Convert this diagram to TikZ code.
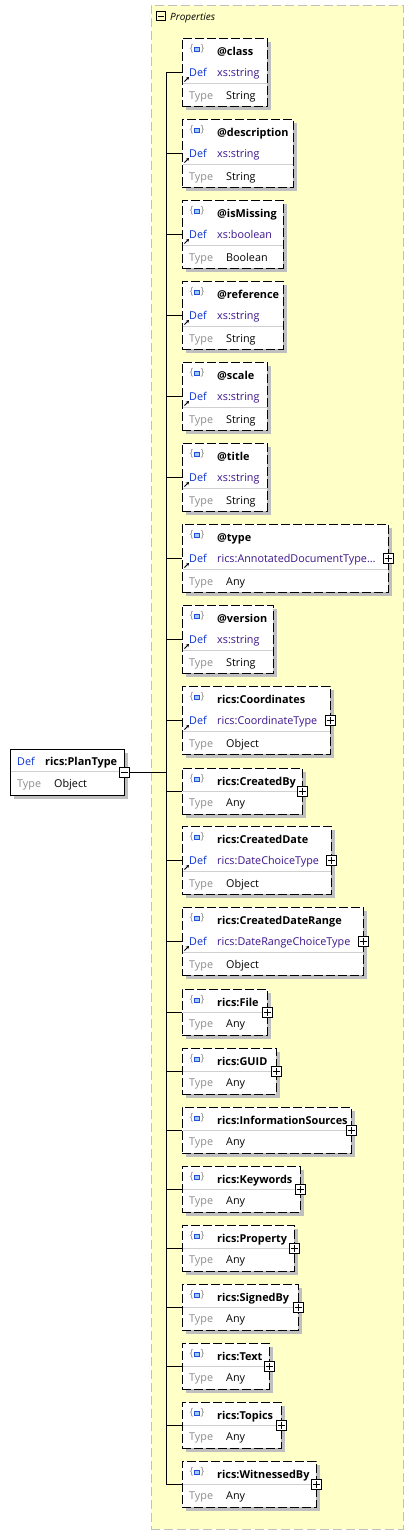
\documentclass[tikz,border=0pt]{standalone}
\usepackage{fontspec}
\setmainfont{Open Sans}
\usetikzlibrary{
  positioning,
  arrows.meta,
  shadows
}
\definecolor{propfill}{HTML}{FFFFC8}
\definecolor{propline}{HTML}{C0C0C0}
\definecolor{rowline}{HTML}{D0D0D0}
\definecolor{defblue}{HTML}{0A32D2}
\definecolor{typeblue}{HTML}{3C148C}
\definecolor{labelgray}{HTML}{8C8C8C}
\definecolor{iconblue}{HTML}{1E50DC}
\definecolor{iconfill}{HTML}{A0C8FF}

\begin{document}
\begin{tikzpicture}[
  x=1pt, y=-1pt,
  font=\fontsize{10.8}{13}\selectfont,
  panel/.style={draw=propline, dash pattern=on 9pt off 4pt, fill=propfill, line width=1pt,
                anchor=north west, inner sep=0, outer sep=0},
  elem/.style={draw, fill=white, anchor=north west, inner sep=0, outer sep=0, line width=1pt,
               drop shadow={shadow xshift=4pt, shadow yshift=-4pt, fill=black!25, opacity=1}},
  opt/.style={elem, dash pattern=on 9pt off 3pt},
  lbl/.style={anchor=base west, inner sep=0},
  elname/.style={lbl, font=\fontsize{10.9}{13}\selectfont\bfseries},
  brace/.style={text=labelgray, inner sep=0, font=\fontsize{10}{12}\selectfont},
  sq/.style={draw=iconblue, fill=iconfill, minimum width=5, minimum height=4, inner sep=0, line width=0.8pt},
  btn/.style={draw, fill=white, minimum size=10, inner sep=0, line width=0.8pt},
  plusbtn/.style={btn, path picture={
      \draw[line width=0.8pt] ([xshift=1.5pt]path picture bounding box.west) -- ([xshift=-1.5pt]path picture bounding box.east)
        ([yshift=-1.5pt]path picture bounding box.north) -- ([yshift=1.5pt]path picture bounding box.south);}},
  minusbtn/.style={btn, path picture={
      \draw[line width=0.8pt] ([xshift=1.5pt]path picture bounding box.west) -- ([xshift=-1.5pt]path picture bounding box.east);}},
  refarrow/.style={-{Stealth[length=3pt, width=3.5pt]}, line width=1pt}
]
  \useasboundingbox (0,0) rectangle (414,1535);

  % Properties panel
  \node[panel, minimum width=252, minimum height=1524] (props) at (151,5) {};
  \node[minusbtn, fill=none, minimum size=9] (props-minus) at (161,16) {};
  \node[lbl, font=\itshape] (props-title) at (170,20) {Properties};

  % Connectors
  \coordinate (trunk) at (166,0);

  % Root element
  \node[elem, minimum width=114, minimum height=46] (root) at (10,749) {};
  \draw[line width=1pt] (root.east) -- (root.east -| trunk);
  \node[lbl, text=defblue] (root-def) at ([shift={(7,16)}]root.north west) {Def};
  \node[elname] (root-name) at ([shift={(35,16)}]root.north west) {rics:PlanType};
  \draw[rowline] ([shift={(0.5,22)}]root.north west) -- ([shift={(-0.5,22)}]root.north east);
  \node[lbl, text=labelgray] (root-type) at ([shift={(7,38)}]root.north west) {Type};
  \node[lbl] (root-tv) at ([shift={(44,38)}]root.north west) {Object};
  \node[minusbtn] (root-minus) at (root.east) {};

  % Attributes and elements with a type
  \foreach \nm/\ty/\bw/\lb/\dv/\tv in {
    class/38/85/@class/xs:string/String,
    description/119/111/@description/xs:string/String,
    ismissing/200/101/@isMissing/xs:boolean/Boolean,
    reference/281/101/@reference/xs:string/String,
    scale/362/85/@scale/xs:string/String,
    title/443/85/@title/xs:string/String,
    type/524/206/@type/rics:AnnotatedDocumentType…/Any,
    version/605/91/@version/xs:string/String,
    coordinates/686/148/rics:Coordinates/rics:CoordinateType/Object,
    createddate/826/149/rics:CreatedDate/rics:DateChoiceType/Object,
    createddaterange/907/181/rics:CreatedDateRange/rics:DateRangeChoiceType/Object}{
    \node[opt, minimum width=\bw, minimum height=68] (\nm) at (182,\ty) {};
    \node[brace] (\nm-lb) at ([shift={(9.5,11)}]\nm.north west) {\{};
    \node[brace] (\nm-rb) at ([shift={(20.5,11)}]\nm.north west) {\}};
    \node[sq] (\nm-sq) at ([shift={(15,11)}]\nm.north west) {};
    \node[elname] (\nm-name) at ([shift={(35,17)}]\nm.north west) {\lb};
    \node[lbl, text=defblue] (\nm-def) at ([shift={(7,38)}]\nm.north west) {Def};
    \node[lbl, text=typeblue] (\nm-dv) at ([shift={(35,38)}]\nm.north west) {\dv};
    \draw[rowline] ([shift={(0.5,45)}]\nm.north west) -- ([shift={(-0.5,45)}]\nm.north east);
    \node[lbl, text=labelgray] (\nm-type) at ([shift={(7,61)}]\nm.north west) {Type};
    \node[lbl] (\nm-tv) at ([shift={(44,61)}]\nm.north west) {\tv};
    \draw[refarrow] ([shift={(2.5,43.5)}]\nm.north west) -- ++(4.5,-4.5);
  }

  % Elements without a type
  \foreach \nm/\ty/\bw/\lb in {
    createdby/768/120/rics:CreatedBy,
    file/989/85/rics:File,
    guid/1048/94/rics:GUID,
    informationsources/1107/169/rics:InformationSources,
    keywords/1166/118/rics:Keywords,
    property/1225/112/rics:Property,
    signedby/1284/116/rics:SignedBy,
    text/1343/87/rics:Text,
    topics/1402/99/rics:Topics,
    witnessedby/1461/134/rics:WitnessedBy}{
    \node[opt, minimum width=\bw, minimum height=46] (\nm) at (182,\ty) {};
    \node[brace] (\nm-lb) at ([shift={(9.5,11)}]\nm.north west) {\{};
    \node[brace] (\nm-rb) at ([shift={(20.5,11)}]\nm.north west) {\}};
    \node[sq] (\nm-sq) at ([shift={(15,11)}]\nm.north west) {};
    \node[elname] (\nm-name) at ([shift={(35,17)}]\nm.north west) {\lb};
    \draw[rowline] ([shift={(0.5,23)}]\nm.north west) -- ([shift={(-0.5,23)}]\nm.north east);
    \node[lbl, text=labelgray] (\nm-type) at ([shift={(7,38)}]\nm.north west) {Type};
    \node[lbl] (\nm-tv) at ([shift={(44,38)}]\nm.north west) {Any};
  }

  % Trunk and branches
  \draw[line width=1pt] (trunk |- class.west) -- (trunk |- witnessedby.west);
  \foreach \nm in {class, description, ismissing, reference, scale, title, type, version,
    coordinates, createdby, createddate, createddaterange, file, guid, informationsources,
    keywords, property, signedby, text, topics, witnessedby}
    \draw[line width=1pt] (trunk |- \nm.west) -- (\nm.west);

  % Expand buttons
  \foreach \nm in {type, coordinates, createdby, createddate, createddaterange, file, guid,
    informationsources, keywords, property, signedby, text, topics, witnessedby}
    \node[plusbtn] (\nm-plus) at (\nm.east) {};
\end{tikzpicture}
\end{document}
